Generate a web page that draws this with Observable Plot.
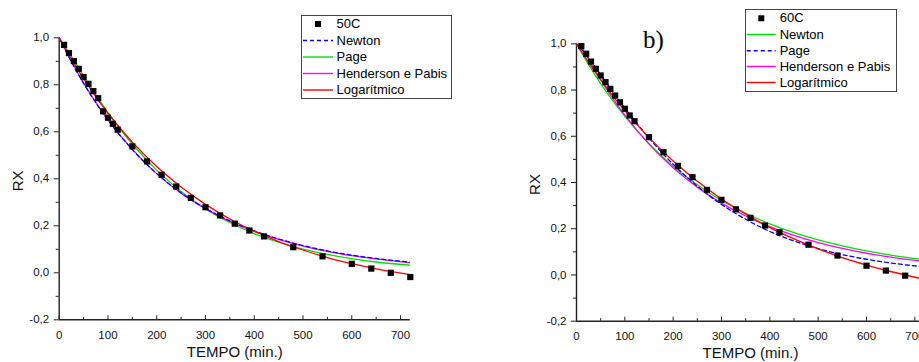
<!DOCTYPE html>
<html>
<head>
<meta charset="utf-8">
<script src="https://cdn.jsdelivr.net/npm/d3@7"></script>
<script src="https://cdn.jsdelivr.net/npm/@observablehq/plot@0.6"></script>
<style>
  html, body { margin: 0; padding: 0; background: #fff; overflow: hidden; width: 919px; height: 362px; }
  .panel { position: absolute; top: 0; }
  .panel svg { max-width: none !important; overflow: visible; }
  .legend { position: absolute; border: 1.3px solid #444; background: #fff; box-sizing: border-box; }
  .lrow { position: absolute; font-family: "Liberation Sans", Arial, sans-serif; font-size: 13px; color: #000; white-space: nowrap; }
  .tag { position: absolute; font-family: "Liberation Serif", "Times New Roman", serif; font-size: 25px; color: #000; }
</style>
</head>
<body>
<div id="left" class="panel" style="left:0px"></div>
<div id="right" class="panel" style="left:459px"></div>
<script>
// ---- axis ticks ----
const yTicks = [-0.2, 0.0, 0.2, 0.4, 0.6, 0.8, 1.0];
const yTickLabels = ["-0,2", "0,0", "0,2", "0,4", "0,6", "0,8", "1,0"];
const yMinor = [-0.1, 0.1, 0.3, 0.5, 0.7, 0.9];
const xTicks = [0, 100, 200, 300, 400, 500, 600, 700];
const xTickLabels = ["0", "100", "200", "300", "400", "500", "600", "700"];
const xMinor = [50, 150, 250, 350, 450, 550, 650];

// ---- panel a (50C) ----
const tExpL = [10, 20, 30, 40, 50, 60, 70, 80, 90, 100, 110, 120, 150, 180, 210, 240, 270, 300, 330, 360, 390, 420, 480, 540, 600, 640, 680, 720];
const rxExpL = [0.970, 0.935, 0.901, 0.868, 0.833, 0.804, 0.773, 0.743, 0.687, 0.660, 0.634, 0.609, 0.538, 0.474, 0.417, 0.367, 0.319, 0.279, 0.244, 0.209, 0.180, 0.155, 0.109, 0.070, 0.038, 0.018, 0.000, -0.018];
const tFit = [0, 25, 50, 75, 100, 150, 200, 250, 300, 350, 400, 450, 500, 550, 600, 650, 720];
const newtonL = [1.0, 0.898, 0.806, 0.724, 0.650, 0.524, 0.422, 0.340, 0.274, 0.221, 0.178, 0.144, 0.116, 0.093, 0.075, 0.061, 0.045];
const pageL = [1.0, 0.921, 0.838, 0.757, 0.682, 0.548, 0.437, 0.346, 0.272, 0.214, 0.167, 0.130, 0.101, 0.078, 0.060, 0.046, 0.032];
const hendersonL = [1.0, 0.900, 0.808, 0.725, 0.651, 0.525, 0.422, 0.339, 0.273, 0.219, 0.176, 0.142, 0.114, 0.091, 0.073, 0.059, 0.042];
const logL = [1.0, 0.909, 0.826, 0.750, 0.679, 0.556, 0.452, 0.365, 0.291, 0.229, 0.177, 0.133, 0.097, 0.065, 0.039, 0.017, -0.008];

// ---- panel b (60C) ----
const tExpR = [10, 20, 30, 40, 50, 60, 70, 80, 90, 100, 110, 120, 150, 180, 210, 240, 270, 300, 330, 360, 390, 420, 480, 540, 600, 640, 680];
const rxExpR = [0.990, 0.957, 0.923, 0.892, 0.863, 0.834, 0.805, 0.776, 0.747, 0.719, 0.690, 0.665, 0.596, 0.531, 0.472, 0.423, 0.368, 0.325, 0.284, 0.247, 0.214, 0.185, 0.131, 0.084, 0.040, 0.019, -0.003];
const newtonR = [1.0, 0.910, 0.828, 0.754, 0.686, 0.568, 0.470, 0.390, 0.322, 0.267, 0.221, 0.183, 0.152, 0.126, 0.104, 0.086, 0.066];
const pageR = [1.0, 0.939, 0.866, 0.793, 0.722, 0.592, 0.479, 0.384, 0.305, 0.241, 0.188, 0.147, 0.114, 0.088, 0.068, 0.052, 0.035];
const hendersonR = [1.03, 0.932, 0.844, 0.764, 0.691, 0.566, 0.464, 0.380, 0.311, 0.255, 0.209, 0.171, 0.140, 0.115, 0.094, 0.077, 0.058];
const logR = [1.0, 0.920, 0.845, 0.775, 0.711, 0.594, 0.493, 0.405, 0.329, 0.263, 0.205, 0.156, 0.113, 0.075, 0.043, 0.015, -0.019];

// ---- legends ----
const legendL = ["50C", "Newton", "Page", "Henderson e Pabis", "Logarítmico"];
const legendR = ["60C", "Newton", "Page", "Henderson e Pabis", "Logarítmico"];
const colBlue = "#0000ff", colGreen = "#00e000", colMagenta = "#ff00ff", colRed = "#ff0000";

const axisColor = "#222";
const fontMain = "'Liberation Sans', Arial, sans-serif";

function panel(opts) {
  const { tExp, rxExp, series, width, height, ml, mr, mt, mb } = opts;
  const marks = [];
  marks.push(Plot.axisY(yTicks, {anchor: "left", tickSize: 5, tickPadding: 5, stroke: axisColor, fill: "#111",
    tickFormat: d => yTickLabels[yTicks.indexOf(d)], label: null}));
  marks.push(Plot.axisY(yMinor, {anchor: "left", tickSize: 3, stroke: axisColor, fill: "none", label: null}));
  marks.push(Plot.axisX(xTicks, {anchor: "bottom", tickSize: 0, tickPadding: 11, fill: "#111",
    tickFormat: d => xTickLabels[xTicks.indexOf(d)], label: null}));
  marks.push(Plot.axisX(xTicks, {anchor: "bottom", tickSize: 4, dy: -4, stroke: axisColor, fill: "none", label: null}));
  marks.push(Plot.axisX(xMinor, {anchor: "bottom", tickSize: 2.5, dy: -2.5, stroke: axisColor, fill: "none", label: null}));
  marks.push(Plot.ruleX([0], {stroke: axisColor, strokeWidth: 1.4}));
  marks.push(Plot.ruleY([-0.2], {stroke: axisColor, strokeWidth: 1.4}));
  for (const s of series) {
    const rows = tFit.map((t, i) => ({t, v: s.values[i]}));
    marks.push(Plot.line(rows, {x: "t", y: "v", stroke: s.color, strokeWidth: 1.3,
      strokeDasharray: s.dash || null, curve: "monotone-x", clip: true}));
  }
  const pts = tExp.map((t, i) => ({t, v: rxExp[i]}));
  marks.push(Plot.dot(pts, {x: "t", y: "v", symbol: "square", r: 3.5, fill: "#000", stroke: "none"}));
  marks.push(Plot.text(["RX"], {frameAnchor: "left", dx: -opts.rxOffset, dy: opts.rxDy, rotate: -90,
    fontSize: 15, fill: "#111", textAnchor: "middle"}));
  marks.push(Plot.text(["TEMPO (min.)"], {frameAnchor: "bottom", dy: opts.titleDy, lineAnchor: "bottom",
    fontSize: 15, fill: "#111", textAnchor: "middle"}));
  return Plot.plot({
    width, height, marginLeft: ml, marginRight: mr, marginTop: mt, marginBottom: mb,
    x: {domain: [0, 720], axis: null},
    y: {domain: [-0.2, 1.0], axis: null},
    style: {fontFamily: fontMain, fontSize: "11.5px", background: "transparent", overflow: "visible", color: "#111"},
    marks
  });
}

document.getElementById("left").appendChild(panel({
  tExp: tExpL, rxExp: rxExpL,
  series: [
    {values: pageL, color: colGreen},
    {values: hendersonL, color: colMagenta},
    {values: newtonL, color: colBlue, dash: "4,3"},
    {values: logL, color: colRed}
  ],
  width: 460, height: 362, ml: 58.7, mr: 50.2, mt: 37.3, mb: 42.7, rxOffset: 41, rxDy: 2, titleDy: 37.5
}));

document.getElementById("right").appendChild(panel({
  tExp: tExpR, rxExp: rxExpR,
  series: [
    {values: newtonR, color: colGreen},
    {values: hendersonR, color: colMagenta},
    {values: pageR, color: colBlue, dash: "4,3"},
    {values: logR, color: colRed}
  ],
  width: 466, height: 362, ml: 117, mr: 1, mt: 43.3, mb: 41.3, rxOffset: 41, rxDy: 2, titleDy: 36.5
}));

// legends
function legend(labels, styles, box, rowsY, swX0, swX1, mkX, textX) {
  const lg = document.createElement("div");
  lg.className = "legend";
  Object.assign(lg.style, {left: box[0] + "px", top: box[1] + "px", width: box[2] + "px", height: box[3] + "px"});
  document.body.appendChild(lg);
  const ns = "http://www.w3.org/2000/svg";
  const svg = document.createElementNS(ns, "svg");
  svg.setAttribute("width", 919); svg.setAttribute("height", 362);
  Object.assign(svg.style, {position: "absolute", left: "0px", top: "0px", overflow: "visible"});
  labels.forEach((lab, i) => {
    const y = rowsY[i];
    const st = styles[i];
    if (st.marker) {
      const r = document.createElementNS(ns, "rect");
      r.setAttribute("x", mkX - 3); r.setAttribute("y", y - 3); r.setAttribute("width", 6); r.setAttribute("height", 6);
      r.setAttribute("fill", "#000");
      svg.appendChild(r);
    } else {
      const l = document.createElementNS(ns, "line");
      l.setAttribute("x1", swX0); l.setAttribute("x2", swX1); l.setAttribute("y1", y); l.setAttribute("y2", y);
      l.setAttribute("stroke", st.color); l.setAttribute("stroke-width", 1.4);
      if (st.dash) l.setAttribute("stroke-dasharray", st.dash);
      svg.appendChild(l);
    }
    const d = document.createElement("div");
    d.className = "lrow";
    d.textContent = lab;
    Object.assign(d.style, {left: textX + "px", top: (y - 8) + "px", lineHeight: "16px"});
    document.body.appendChild(d);
  });
  document.body.appendChild(svg);
}

legend(legendL,
  [{marker: true}, {color: colBlue, dash: "4,3"}, {color: colGreen}, {color: colMagenta}, {color: colRed}],
  [301, 15, 151, 84], [24, 40.5, 57, 73.5, 90], 303, 333, 318, 336.5);
legend(legendR,
  [{marker: true}, {color: colGreen}, {color: colBlue, dash: "4,3"}, {color: colMagenta}, {color: colRed}],
  [744.5, 9.3, 152, 82.5], [18.3, 34.5, 50.7, 66.5, 82.5], 746.7, 775.7, 761.3, 779.7);

const tag = document.createElement("div");
tag.className = "tag";
tag.textContent = "b)";
Object.assign(tag.style, {left: "643px", top: "27px", lineHeight: "25px"});
document.body.appendChild(tag);
</script>
</body>
</html>
